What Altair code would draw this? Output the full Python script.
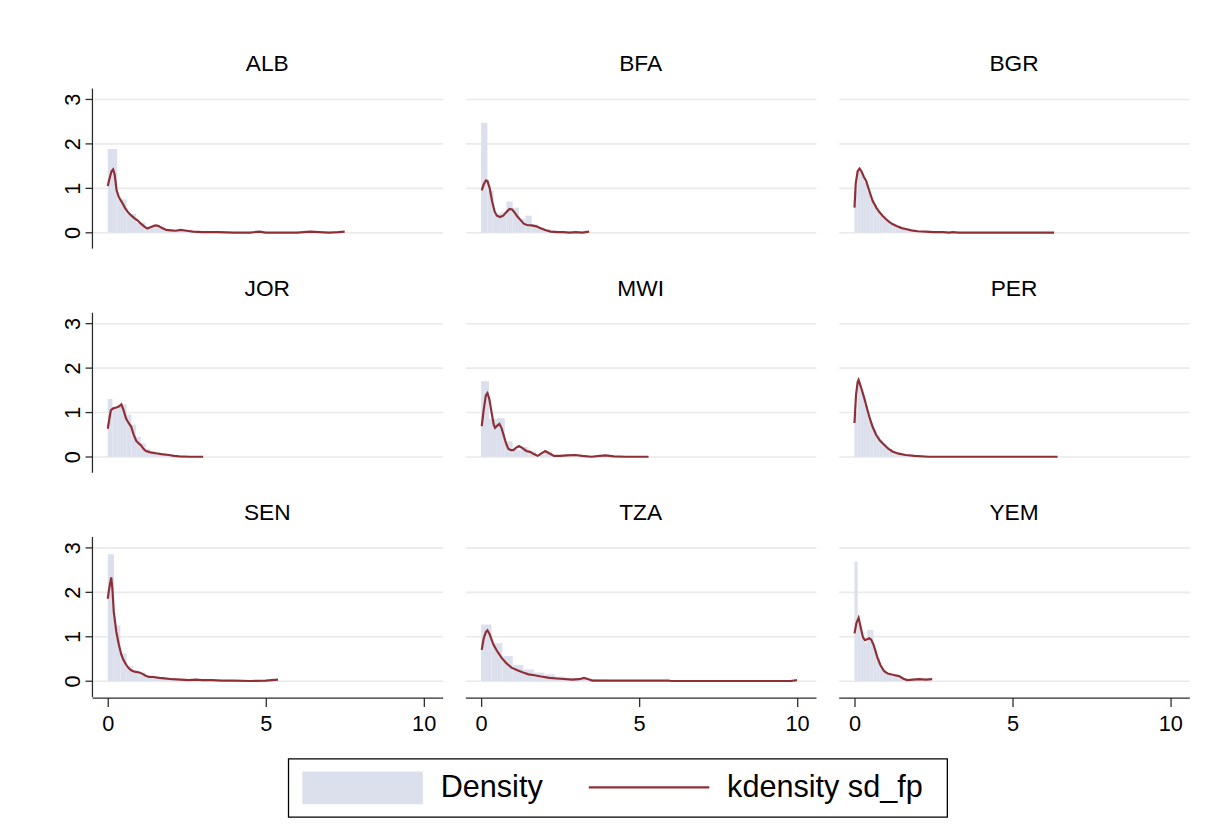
import altair as alt
import pandas as pd

COUNTRIES = ["ALB", "BFA", "BGR", "JOR", "MWI", "PER", "SEN", "TZA", "YEM"]

# ---- histogram bins (edges) and heights, per country ----
alb_edges = [0.0, 0.3, 0.6, 0.9, 1.2, 1.5, 1.8, 2.1, 2.4, 2.7, 3.0, 3.3, 3.6, 3.9, 4.2,
             4.5, 4.8, 5.1, 5.4, 5.7, 6.0, 6.3, 6.6, 6.9, 7.2, 7.5]
alb_heights = [1.88, 0.75, 0.42, 0.22, 0.12, 0.14, 0.06, 0.05, 0.04, 0.03, 0.02, 0.02, 0.01,
               0.01, 0.01, 0.01, 0.0, 0.01, 0.01, 0.0, 0.01, 0.01, 0.01, 0.01, 0.02]

bfa_edges = [0.0, 0.2, 0.4, 0.6, 0.8, 1.0, 1.2, 1.4, 1.6, 1.8, 2.0, 2.2, 2.4, 2.6, 2.8,
             3.0, 3.2, 3.4]
bfa_heights = [2.47, 0.95, 0.42, 0.45, 0.70, 0.56, 0.30, 0.38, 0.18, 0.12, 0.08, 0.05,
               0.03, 0.02, 0.02, 0.01, 0.01]

bgr_edges = [0.0, 0.1, 0.2, 0.3, 0.4, 0.5, 0.6, 0.7, 0.8, 0.9, 1.0, 1.1, 1.2, 1.3, 1.4,
             1.5, 1.6, 1.7, 1.8, 1.9, 2.0, 2.5, 3.0, 4.0, 5.0, 6.3]
bgr_heights = [0.95, 1.40, 1.32, 1.12, 0.92, 0.74, 0.60, 0.48, 0.39, 0.32, 0.26, 0.21,
               0.17, 0.14, 0.11, 0.09, 0.07, 0.06, 0.05, 0.04, 0.03, 0.015, 0.008, 0.004,
               0.002]

jor_edges = [0.0, 0.15, 0.3, 0.45, 0.6, 0.75, 0.9, 1.05, 1.2, 1.35, 1.5, 1.65, 1.8, 1.95,
             2.1, 2.25, 2.4, 2.55, 2.7, 2.85, 3.0]
jor_heights = [1.30, 1.12, 1.16, 1.18, 0.95, 0.72, 0.45, 0.30, 0.18, 0.12, 0.09, 0.07,
               0.05, 0.04, 0.03, 0.02, 0.01, 0.01, 0.01, 0.0]

mwi_edges = [0.0, 0.25, 0.5, 0.75, 1.0, 1.25, 1.5, 1.75, 2.0, 2.25, 2.5, 2.75, 3.0, 3.25,
             3.5, 3.75, 4.0, 4.25, 4.5, 4.75, 5.0, 5.25]
mwi_heights = [1.70, 0.85, 0.87, 0.35, 0.16, 0.22, 0.12, 0.04, 0.12, 0.04, 0.02, 0.03,
               0.03, 0.02, 0.01, 0.02, 0.01, 0.01, 0.0, 0.01, 0.0]

per_edges = [0.0, 0.1, 0.2, 0.3, 0.4, 0.5, 0.6, 0.7, 0.8, 0.9, 1.0, 1.1, 1.2, 1.3, 1.4,
             1.5, 1.6, 1.7, 1.8, 1.9, 2.0, 2.5, 3.0, 4.0, 5.0, 6.4]
per_heights = [1.0, 1.68, 1.45, 1.18, 0.95, 0.76, 0.60, 0.47, 0.37, 0.29, 0.22, 0.17,
               0.13, 0.10, 0.08, 0.06, 0.05, 0.04, 0.03, 0.02, 0.01, 0.005, 0.003, 0.002,
               0.001]

sen_edges = [0.0, 0.2, 0.4, 0.6, 0.8, 1.0, 1.2, 1.4, 1.6, 1.8, 2.0, 2.4, 2.8, 3.2, 3.6,
             4.0, 4.4, 4.8, 5.4]
sen_heights = [2.85, 1.25, 0.62, 0.33, 0.22, 0.19, 0.13, 0.09, 0.07, 0.06, 0.04, 0.03,
               0.02, 0.015, 0.01, 0.01, 0.008, 0.01]

tza_edges = [0.0, 0.33, 0.67, 1.0, 1.33, 1.67, 2.0, 2.33, 2.67, 3.0, 3.33, 3.67, 4.0,
             4.33, 4.67, 5.0, 5.33, 5.67, 6.0, 6.33, 6.67, 7.0, 7.33, 7.67, 8.0, 8.33,
             8.67, 9.0, 9.33, 9.67, 10.0]
tza_heights = [1.27, 0.85, 0.56, 0.36, 0.26, 0.19, 0.15, 0.10, 0.07, 0.05, 0.05, 0.04,
               0.02, 0.01, 0.01, 0.01, 0.01, 0.01, 0.0, 0.0, 0.005, 0.005, 0.005, 0.005,
               0.005, 0.005, 0.005, 0.005, 0.005, 0.01]

yem_edges = [0.0, 0.1, 0.2, 0.3, 0.4, 0.5, 0.6, 0.7, 0.8, 0.9, 1.0, 1.2, 1.4, 1.6, 1.8,
             2.0, 2.2, 2.4]
yem_heights = [2.68, 1.30, 0.95, 0.85, 1.15, 1.15, 0.75, 0.52, 0.32, 0.26, 0.15, 0.12,
               0.08, 0.03, 0.03, 0.04, 0.04]

# ---- kernel density curves (x, y), per country ----
alb_kx = [0.0, 0.05, 0.12, 0.17, 0.22, 0.28, 0.35, 0.45, 0.55, 0.65, 0.75, 0.85, 0.95,
          1.05, 1.15, 1.25, 1.35, 1.5, 1.6, 1.72, 1.85, 2.0, 2.15, 2.3, 2.5, 2.7, 3.0,
          3.5, 4.0, 4.5, 4.8, 5.0, 5.5, 6.0, 6.4, 6.7, 7.0, 7.3, 7.5]
alb_ky = [1.05, 1.2, 1.38, 1.42, 1.3, 0.95, 0.8, 0.68, 0.55, 0.45, 0.38, 0.32, 0.27,
          0.2, 0.14, 0.09, 0.12, 0.16, 0.15, 0.1, 0.06, 0.05, 0.04, 0.06, 0.04, 0.02,
          0.01, 0.01, 0.0, 0.0, 0.02, 0.0, 0.0, 0.0, 0.02, 0.01, 0.0, 0.01, 0.02]

bfa_kx = [0.02, 0.08, 0.15, 0.2, 0.27, 0.35, 0.43, 0.5, 0.6, 0.7, 0.8, 0.9, 0.98, 1.07,
          1.15, 1.25, 1.35, 1.45, 1.6, 1.75, 1.9, 2.05, 2.2, 2.4, 2.6, 2.8, 3.0, 3.2, 3.42]
bfa_ky = [0.95, 1.08, 1.17, 1.16, 1.0, 0.7, 0.47, 0.38, 0.35, 0.38, 0.46, 0.53, 0.52,
          0.44, 0.36, 0.28, 0.2, 0.17, 0.16, 0.14, 0.09, 0.05, 0.02, 0.01, 0.01, 0.0,
          0.01, 0.0, 0.02]

bgr_kx = [0.0, 0.04, 0.1, 0.16, 0.22, 0.3, 0.37, 0.45, 0.57, 0.7, 0.8, 0.89, 1.0, 1.1,
          1.2, 1.35, 1.5, 1.62, 1.8, 2.0, 2.25, 2.5, 2.8, 3.0, 3.1, 3.3, 4.0, 5.0, 6.32]
bgr_ky = [0.56, 1.1, 1.38, 1.44, 1.38, 1.25, 1.16, 0.98, 0.72, 0.55, 0.45, 0.38, 0.3,
          0.24, 0.19, 0.14, 0.1, 0.08, 0.05, 0.03, 0.02, 0.01, 0.01, 0.0, 0.01, 0.0, 0.0,
          0.0, 0.0]

jor_kx = [0.0, 0.05, 0.1, 0.18, 0.27, 0.35, 0.43, 0.5, 0.58, 0.66, 0.74, 0.82, 0.9, 0.98,
          1.05, 1.13, 1.21, 1.35, 1.52, 1.7, 1.93, 2.1, 2.26, 2.6, 3.02]
jor_ky = [0.63, 0.85, 1.05, 1.09, 1.11, 1.13, 1.18, 1.05, 0.86, 0.76, 0.68, 0.5, 0.36,
          0.3, 0.26, 0.18, 0.13, 0.1, 0.08, 0.06, 0.04, 0.02, 0.01, 0.0, 0.0]

mwi_kx = [0.02, 0.08, 0.15, 0.2, 0.26, 0.33, 0.4, 0.44, 0.51, 0.58, 0.65, 0.72, 0.79,
          0.86, 0.94, 1.02, 1.1, 1.2, 1.3, 1.43, 1.55, 1.67, 1.79, 1.9, 2.03, 2.15, 2.31,
          2.5, 2.7, 2.99, 3.2, 3.5, 3.75, 3.94, 4.2, 4.57, 5.3]
mwi_ky = [0.69, 1.05, 1.38, 1.43, 1.3, 1.0, 0.72, 0.65, 0.7, 0.74, 0.64, 0.47, 0.3, 0.18,
          0.15, 0.15, 0.2, 0.24, 0.2, 0.13, 0.11, 0.06, 0.02, 0.07, 0.13, 0.08, 0.02,
          0.02, 0.03, 0.04, 0.02, 0.0, 0.02, 0.03, 0.01, 0.0, 0.0]

per_kx = [0.0, 0.05, 0.1, 0.13, 0.2, 0.31, 0.4, 0.47, 0.57, 0.68, 0.8, 0.94, 1.07, 1.2,
          1.4, 1.62, 1.9, 2.35, 3.0, 4.0, 5.0, 6.43]
per_ky = [0.76, 1.4, 1.68, 1.73, 1.58, 1.32, 1.08, 0.9, 0.68, 0.5, 0.37, 0.27, 0.18,
          0.12, 0.07, 0.04, 0.02, 0.0, 0.0, 0.0, 0.0, 0.0]

sen_kx = [0.0, 0.05, 0.11, 0.15, 0.19, 0.27, 0.35, 0.43, 0.5, 0.58, 0.66, 0.74, 0.85,
          1.0, 1.1, 1.2, 1.31, 1.45, 1.63, 1.8, 2.05, 2.3, 2.57, 2.78, 3.0, 3.3, 3.62,
          4.0, 4.5, 5.0, 5.39]
sen_ky = [1.85, 2.1, 2.33, 2.05, 1.56, 1.11, 0.82, 0.59, 0.47, 0.37, 0.29, 0.24, 0.21,
          0.19, 0.16, 0.12, 0.09, 0.09, 0.07, 0.06, 0.04, 0.03, 0.02, 0.03, 0.02, 0.02,
          0.01, 0.01, 0.0, 0.01, 0.03]

tza_kx = [0.02, 0.08, 0.15, 0.2, 0.27, 0.39, 0.5, 0.65, 0.8, 0.96, 1.15, 1.33, 1.5, 1.69,
          1.9, 2.16, 2.5, 2.89, 3.1, 3.26, 3.4, 3.52, 4.0, 5.0, 5.93, 6.02, 7.0, 8.0,
          9.0, 9.8, 10.0]
tza_ky = [0.7, 0.95, 1.1, 1.14, 1.05, 0.82, 0.68, 0.52, 0.4, 0.3, 0.24, 0.19, 0.15,
          0.13, 0.1, 0.07, 0.05, 0.03, 0.04, 0.07, 0.04, 0.01, 0.01, 0.01, 0.01, 0.0,
          0.0, 0.0, 0.0, 0.0, 0.02]

yem_kx = [0.0, 0.06, 0.13, 0.2, 0.27, 0.33, 0.4, 0.47, 0.53, 0.6, 0.67, 0.73, 0.82,
          0.94, 1.05, 1.15, 1.28, 1.41, 1.55, 1.67, 1.85, 2.04, 2.25, 2.46]
yem_ky = [1.07, 1.3, 1.42, 1.2, 0.98, 0.92, 0.94, 0.96, 0.93, 0.82, 0.66, 0.52, 0.36,
          0.22, 0.17, 0.15, 0.13, 0.11, 0.05, 0.02, 0.03, 0.04, 0.03, 0.04]

HIST = {"ALB": (alb_edges, alb_heights), "BFA": (bfa_edges, bfa_heights),
        "BGR": (bgr_edges, bgr_heights), "JOR": (jor_edges, jor_heights),
        "MWI": (mwi_edges, mwi_heights), "PER": (per_edges, per_heights),
        "SEN": (sen_edges, sen_heights), "TZA": (tza_edges, tza_heights),
        "YEM": (yem_edges, yem_heights)}
KDE = {"ALB": (alb_kx, alb_ky), "BFA": (bfa_kx, bfa_ky), "BGR": (bgr_kx, bgr_ky),
       "JOR": (jor_kx, jor_ky), "MWI": (mwi_kx, mwi_ky), "PER": (per_kx, per_ky),
       "SEN": (sen_kx, sen_ky), "TZA": (tza_kx, tza_ky), "YEM": (yem_kx, yem_ky)}

X_TICKS = [0, 5, 10]
Y_TICKS = [0, 1, 2, 3]
LEGEND_LABELS = ["Density", "kdensity sd_fp"]

FILL = "#dce0ed"
LINE = "#8e2f37"
GRID = "#eaeaea"
AXIS = "#2b2b2b"
FONT = "Liberation Sans"
PW, PH = 355, 162


def panel(country, r, k):
    edges, heights = HIST[country]
    kx, ky = KDE[country]
    hdf = pd.DataFrame({"x0": edges[:-1], "x1": edges[1:], "h": heights,
                        "b": [0.0] * len(heights)})
    kdf = pd.DataFrame({"x": kx, "y": ky})
    xs = alt.Scale(domain=[-0.5, 10.6], nice=False, zero=False)
    ys = alt.Scale(domain=[-0.35, 3.25], nice=False, zero=False)
    if k == 0:
        yaxis = alt.Axis(values=Y_TICKS, grid=True, gridColor=GRID, gridWidth=1.6,
                         labelAngle=270, labelAlign="center", labelBaseline="bottom",
                         tickSize=7, labelPadding=1, domainColor=AXIS, tickColor=AXIS,
                         domainWidth=1.3, tickWidth=1.3, title=None, labelFontSize=22,
                         labelFont=FONT, labelColor="black")
    else:
        yaxis = alt.Axis(values=Y_TICKS, grid=True, gridColor=GRID, gridWidth=1.6,
                         labels=False, ticks=False, domain=False, title=None)
    if r == 2:
        xaxis = alt.Axis(values=X_TICKS, grid=False, tickSize=9, labelPadding=7,
                         title=None, labelAngle=0, domainColor=AXIS, tickColor=AXIS,
                         domainWidth=1.3, tickWidth=1.3, labelFontSize=22, labelFont=FONT,
                         labelColor="black", offset=1)
    else:
        xaxis = None
    bars = alt.Chart(hdf).mark_rect(color=FILL).encode(
        x=alt.X("x0:Q", scale=xs, axis=xaxis), x2="x1:Q",
        y=alt.Y("h:Q", scale=ys, axis=yaxis), y2="b:Q")
    line = alt.Chart(kdf).mark_line(color=LINE, strokeWidth=2.2).encode(
        x=alt.X("x:Q", scale=xs, axis=xaxis), y=alt.Y("y:Q", scale=ys, axis=yaxis))
    return alt.layer(bars, line).properties(
        width=PW, height=PH,
        title=alt.Title(country, fontSize=23, font=FONT, fontWeight="normal",
                        color="black", offset=12, anchor="middle"))


rows = []
for r in range(3):
    rows.append(alt.hconcat(*[panel(COUNTRIES[r * 3 + k], r, k) for k in range(3)],
                            spacing=23))
grid = alt.vconcat(*rows, spacing=30)

# legend drawn as a small chart of its own
leg_box = pd.DataFrame({"label": ["box"]})
leg_items = pd.DataFrame({"label": LEGEND_LABELS})
box = alt.Chart(leg_box).mark_rect(fill="white", stroke="black", strokeWidth=1.3).encode(
    x=alt.value(199), x2=alt.value(866), y=alt.value(0), y2=alt.value(59))
swatch = alt.Chart(leg_box).mark_rect(color=FILL).encode(
    x=alt.value(213), x2=alt.value(335), y=alt.value(13), y2=alt.value(46))
lsym = alt.Chart(leg_box).mark_rule(color=LINE, strokeWidth=2.2).encode(
    x=alt.value(503), x2=alt.value(625), y=alt.value(29))
t1 = alt.Chart(leg_items).transform_filter(alt.datum.label == "Density").mark_text(
    align="left", baseline="middle", fontSize=31, font=FONT, color="black").encode(
    x=alt.value(353), y=alt.value(30), text="label:N")
t2 = alt.Chart(leg_items).transform_filter(alt.datum.label == "kdensity sd_fp").mark_text(
    align="left", baseline="middle", fontSize=31, font=FONT, color="black").encode(
    x=alt.value(643), y=alt.value(30), text="label:N")
legend = alt.layer(box, swatch, lsym, t1, t2).properties(width=1128, height=59)

chart = alt.vconcat(grid, legend, spacing=24).properties(
    padding={"left": 53, "top": 41, "right": 10, "bottom": 5},
    background="white",
).configure_view(strokeWidth=0)

chart.save("out.html", embed_options={"renderer": "svg", "actions": False})
